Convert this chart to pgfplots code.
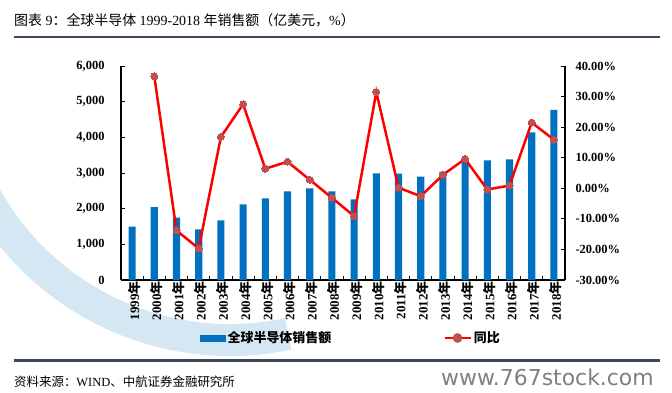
\documentclass[border=0pt]{standalone}
\usepackage{fontspec}
\setmainfont{Liberation Serif}
\newfontfamily\cjk{Noto Sans CJK SC}
\newfontfamily\dvs{DejaVu Sans}
\usepackage{pgfplots}
\pgfplotsset{compat=1.18}
\definecolor{barblue}{HTML}{0070C0}
\definecolor{mk}{HTML}{C0504D}
\definecolor{rulec}{HTML}{3B4656}
\definecolor{wm}{HTML}{D6E7F4}
\newcommand{\Y}[1]{#1{\cjk 年}}
\begin{document}
\begin{tikzpicture}
\path[use as bounding box, fill=white] (0bp,0bp) rectangle (672bp,-393bp);
% faint background watermark swoosh
\begin{scope}
\clip (0bp,-39bp) rectangle (672bp,-358bp);
\draw[wm, line width=32bp] (230bp,-60bp) ++(205:280bp) arc[start angle=205, end angle=282, radius=280bp];
\end{scope}
\node[anchor=west, inner sep=0, font=\fontsize{14}{16}\selectfont] at (14bp,-20bp) {{\cjk 图表} 9{\cjk ：全球半导体} 1999-2018 {\cjk 年销售额（亿美元，}\%{\cjk ）}};
\draw[rulec, line width=2.5bp] (14bp,-37bp) -- (660bp,-37bp);
\draw[rulec, line width=2.5bp] (14bp,-360.5bp) -- (660bp,-360.5bp);
\node[anchor=west, inner sep=0, font=\fontsize{12.5}{14}\selectfont] at (14bp,-382bp) {{\cjk 资料来源：}WIND{\cjk 、中航证券金融研究所}};
\node[anchor=west, inner sep=0, text=black!50, font=\dvs\fontsize{22}{24}\selectfont] at (441bp,-377bp) {www.767stock.com};

\begin{axis}[
  at={(121bp,-280bp)}, anchor=south west, scale only axis,
  width=444bp, height=214bp,
  xmin=-0.5, xmax=19.5, ymin=0, ymax=6000,
  ytick={0,1000,...,6000},
  axis x line*=bottom, axis y line*=left,
  axis line style={-, line width=1.5bp, black},
  tick align=inside,
  major tick length=4bp, minor tick length=4bp,
  tick style={black, line width=1bp},
  xtick={0,...,19},
  xticklabels={\Y{1999},\Y{2000},\Y{2001},\Y{2002},\Y{2003},\Y{2004},\Y{2005},\Y{2006},\Y{2007},\Y{2008},\Y{2009},\Y{2010},\Y{2011},\Y{2012},\Y{2013},\Y{2014},\Y{2015},\Y{2016},\Y{2017},\Y{2018}},
  major x tick style={draw=none},
  minor xtick={-0.5,0.5,...,19.5},
  x tick label style={rotate=90, anchor=east, inner sep=1bp, yshift=-2bp, font=\bfseries\fontsize{13}{14}\selectfont},
  y tick label style={font=\bfseries\fontsize{12.5}{14}\selectfont, xshift=-13bp},
  /pgf/number format/assume math mode=true,
  /pgf/number format/1000 sep={,},
  clip=false,
]
\addplot[ybar, bar width=0.32, fill=barblue, draw=none] coordinates {
(0,1500) (1,2045) (2,1750) (3,1420) (4,1672) (5,2120) (6,2288) (7,2484) (8,2568) (9,2484)
(10,2260) (11,2990) (12,2980) (13,2896) (14,3036) (15,3381) (16,3353) (17,3381) (18,4137) (19,4773)};
\end{axis}

\begin{axis}[
  at={(121bp,-280bp)}, anchor=south west, scale only axis,
  width=444bp, height=214bp,
  xmin=-0.5, xmax=19.5, ymin=-30, ymax=40,
  ytick={-30,-20,...,40},
  axis x line=none, axis y line*=right,
  axis line style={-, line width=1.5bp, black},
  tick align=inside, major tick length=4bp,
  tick style={black, line width=1bp},
  yticklabel={\pgfmathprintnumber[fixed,fixed zerofill,precision=2]{\tick}\%},
  y tick label style={font=\bfseries\fontsize{12.5}{14}\selectfont, xshift=7bp},
  /pgf/number format/assume math mode=true,
  clip=false,
  legend columns=2,
  legend style={at={(0.518,-0.271)}, anchor=center, draw=none, fill=none,
    font=\cjk\bfseries\fontsize{13}{14}\selectfont, inner sep=0pt,
    nodes={inner sep=2bp},
    /tikz/every even column/.append style={column sep=110bp}},
]
\addlegendimage{legend image code/.code={\fill[barblue] (0bp,-3bp) rectangle (25bp,3bp);}}
\addlegendentry{全球半导体销售额}
\addplot[red, line width=2.5bp, mark=*, mark size=3.5bp, mark options={fill=mk, draw=mk, line width=0pt},
  legend image code/.code={\draw[red,line width=2.5bp] (0bp,0bp) -- (26bp,0bp); \fill[mk] (13bp,0bp) circle (3.5bp);}]
  coordinates {
(1,36.6) (2,-13.8) (3,-19.7) (4,16.8) (5,27.5) (6,6.4) (7,8.7) (8,2.8) (9,-3.1) (10,-9.1)
(11,31.5) (12,0.2) (13,-2.6) (14,4.4) (15,9.6) (16,-0.4) (17,0.9) (18,21.5) (19,15.9)};
\addlegendentry{同比}
\end{axis}
\end{tikzpicture}
\end{document}
